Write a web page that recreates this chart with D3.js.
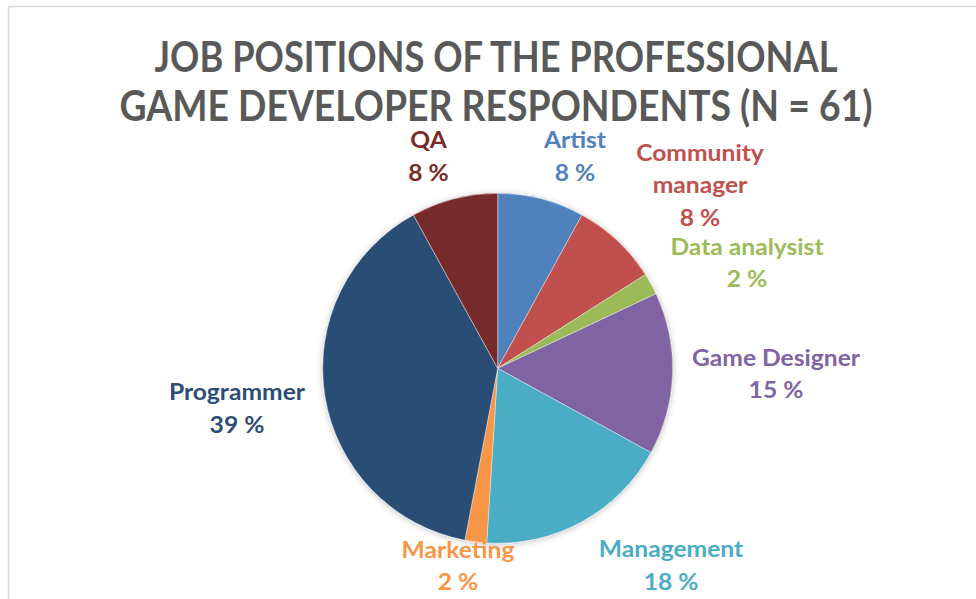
<!DOCTYPE html>
<html>
<head>
<meta charset="utf-8">
<script src="https://cdn.jsdelivr.net/npm/d3@7"></script>
<style>
  html, body { margin: 0; padding: 0; background: #ffffff; }
  svg { display: block; }
  text { font-family: Lato, "Open Sans", "DejaVu Sans", sans-serif; font-weight: 700; }
</style>
</head>
<body>
<svg id="chart" width="976" height="599"></svg>
<script>
// Survey breakdown: job positions of professional game developers (N = 61)
const titleLines = ["JOB POSITIONS OF THE PROFESSIONAL", "GAME DEVELOPER RESPONDENTS (N = 61)"];
const categories = ["Artist", "Community manager", "Data analysist", "Game Designer",
                    "Management", "Marketing", "Programmer", "QA"];
const percentages = [8, 8, 2, 15, 18, 2, 39, 8];
const labelLines = [["Artist"], ["Community", "manager"], ["Data analysist"], ["Game Designer"],
                    ["Management"], ["Marketing"], ["Programmer"], ["QA"]];

// Slice / label palette
const colors = ["#4F81BD", "#C0504D", "#9BBB59", "#8064A2", "#4BACC6", "#F79646", "#2C4D75", "#772C2A"];

// Label placement: base point on a ring outside the pie, then a small per-label nudge
const labelRing = 240;
const labelNudge = [[17.6, 20.7], [38, -8.3], [39, 10.3], [38.4, -1.8],
                    [57.7, -13.1], [-9.6, -40.4], [-23.7, 2.7], [-9.5, 20.7]];

const svg = d3.select("#chart");
const W = 976, H = 599;
const cx = 497.7, cy = 368.3, radius = 175;

// Chart-area frame (top and left edges visible)
svg.append("line").attr("x1", 8.5).attr("y1", 6.5).attr("x2", W).attr("y2", 6.5)
  .attr("stroke", "#d9d9d9").attr("stroke-width", 1.5);
svg.append("line").attr("x1", 8.5).attr("y1", 6.5).attr("x2", 8.5).attr("y2", H)
  .attr("stroke", "#d9d9d9").attr("stroke-width", 1.5);

// Title
const titleWidths = [683, 753];
titleLines.forEach((t, i) => {
  svg.append("text")
    .attr("x", 496).attr("y", 72 + i * 48.5)
    .attr("text-anchor", "middle")
    .attr("fill", "#595959")
    .attr("font-size", 42)
    .attr("textLength", titleWidths[i])
    .attr("lengthAdjust", "spacingAndGlyphs")
    .text(t);
});

// Soft shadow under the pie
const defs = svg.append("defs");
const f = defs.append("filter").attr("id", "pieShadow")
  .attr("x", "-20%").attr("y", "-20%").attr("width", "140%").attr("height", "140%");
f.append("feDropShadow").attr("dx", 0).attr("dy", 1).attr("stdDeviation", 3)
  .attr("flood-color", "#000").attr("flood-opacity", 0.25);

const data = categories.map((c, i) => ({ name: c, value: percentages[i], color: colors[i], i }));

const pie = d3.pie().value(d => d.value).sort(null);
const arc = d3.arc().innerRadius(0).outerRadius(radius);
const arcs = pie(data);

const g = svg.append("g").attr("transform", `translate(${cx},${cy})`);
g.append("g").attr("filter", "url(#pieShadow)")
  .selectAll("path")
  .data(arcs)
  .join("path")
  .attr("d", arc)
  .attr("fill", d => d.data.color)
  .attr("stroke", "#ffffff")
  .attr("stroke-width", 0.4);

// Data labels: name lines plus percentage, coloured like their slice
const lineH = 32.5;
const fontSize = 22;
const capHalf = 8;
const widen = 1.12;   // slightly wider letterforms for the label face
arcs.forEach(a => {
  const mid = (a.startAngle + a.endAngle) / 2;
  const i = a.data.i;
  const bx = labelRing * Math.sin(mid) + labelNudge[i][0];
  const by = -labelRing * Math.cos(mid) + labelNudge[i][1];
  const lines = labelLines[i].concat([`${a.data.value} %`]);
  const firstBase = by - (lines.length - 1) * lineH / 2 + capHalf;
  const t = g.append("text")
    .attr("transform", `translate(${bx},0) scale(${widen},1)`)
    .attr("text-anchor", "middle")
    .attr("fill", a.data.color)
    .attr("font-size", fontSize);
  lines.forEach((ln, k) => {
    t.append("tspan").attr("x", 0).attr("y", firstBase + k * lineH).text(ln);
  });
});
</script>
</body>
</html>
